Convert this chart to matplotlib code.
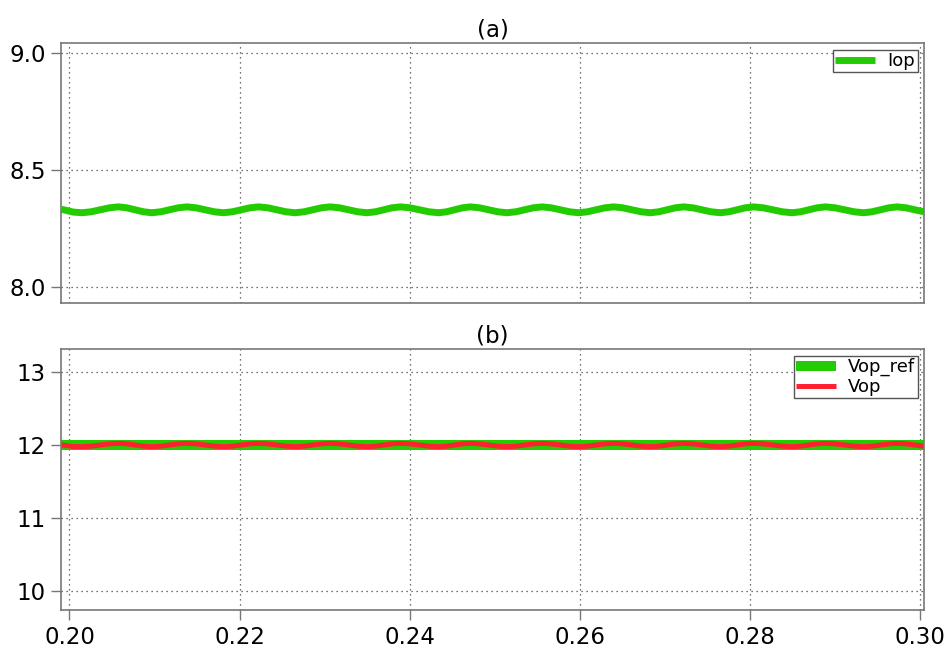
import matplotlib
matplotlib.use("Agg")
import matplotlib.pyplot as plt

# ---- data (common time axis, s) ----
time_s = [0.19906, 0.20040,
          0.20146, 0.20254, 0.20469, 0.20576, 0.20674, 0.20871,
          0.20969, 0.21072, 0.21278, 0.21381, 0.21489, 0.21704,
          0.21812, 0.21915, 0.22121, 0.22224, 0.22332, 0.22547,
          0.22655, 0.22758, 0.22964, 0.23067, 0.23175, 0.23391,
          0.23499, 0.23597, 0.23793, 0.23891, 0.24004, 0.24229,
          0.24341, 0.24435, 0.24622, 0.24715, 0.24823, 0.25038,
          0.25146, 0.25249, 0.25455, 0.25558, 0.25666, 0.25881,
          0.25988, 0.26091, 0.26297, 0.26400, 0.26508, 0.26724,
          0.26832, 0.26930, 0.27126, 0.27224, 0.27332, 0.27547,
          0.27655, 0.27753, 0.27949, 0.28047, 0.28160, 0.28386,
          0.28499, 0.28597, 0.28793, 0.28891, 0.29004, 0.29229,
          0.29341, 0.29439, 0.29636, 0.29734, 0.29838, 0.30050]

iop_v = [8.333, 8.321,
         8.318, 8.322, 8.339, 8.343, 8.339, 8.322,
         8.318, 8.322, 8.339, 8.343, 8.339, 8.322,
         8.318, 8.322, 8.339, 8.343, 8.339, 8.322,
         8.318, 8.322, 8.339, 8.343, 8.339, 8.322,
         8.318, 8.322, 8.339, 8.343, 8.339, 8.322,
         8.318, 8.322, 8.339, 8.343, 8.339, 8.322,
         8.318, 8.322, 8.339, 8.343, 8.339, 8.322,
         8.318, 8.322, 8.339, 8.343, 8.339, 8.322,
         8.318, 8.322, 8.339, 8.343, 8.339, 8.322,
         8.318, 8.322, 8.339, 8.343, 8.339, 8.322,
         8.318, 8.322, 8.339, 8.343, 8.339, 8.322,
         8.318, 8.322, 8.339, 8.343, 8.339, 8.322]

vop_v = [12.000, 11.979,
         11.976, 11.983, 12.015, 12.022, 12.015, 11.983,
         11.976, 11.983, 12.015, 12.022, 12.015, 11.983,
         11.976, 11.983, 12.015, 12.022, 12.015, 11.983,
         11.976, 11.983, 12.015, 12.022, 12.015, 11.983,
         11.976, 11.983, 12.015, 12.022, 12.015, 11.983,
         11.976, 11.983, 12.015, 12.022, 12.015, 11.983,
         11.976, 11.983, 12.015, 12.022, 12.015, 11.983,
         11.976, 11.983, 12.015, 12.022, 12.015, 11.983,
         11.976, 11.983, 12.015, 12.022, 12.015, 11.983,
         11.976, 11.983, 12.015, 12.022, 12.015, 11.983,
         11.976, 11.983, 12.015, 12.022, 12.015, 11.983,
         11.976, 11.983, 12.015, 12.022, 12.015, 11.983]

vref_t = [0.19906, 0.30050]
vref_v = [12.0, 12.0]

x_ticks = [0.20, 0.22, 0.24, 0.26, 0.28, 0.30]
x_ticklabels = ["0.20", "0.22", "0.24", "0.26", "0.28", "0.30"]
a_yticks = [8.0, 8.5, 9.0]
a_yticklabels = ["8.0", "8.5", "9.0"]
b_yticks = [10, 11, 12, 13]
b_yticklabels = ["10", "11", "12", "13"]

GREEN = "#22cc00"
RED = "#ff2030"

plt.rcParams["font.family"] = ["DejaVu Sans"]
plt.rcParams["lines.solid_capstyle"] = "butt"

fig = plt.figure(figsize=(9.46, 6.48), dpi=100)
ax1 = fig.add_axes([0.065, 0.532, 0.9117, 0.401])
ax2 = fig.add_axes([0.065, 0.0586, 0.9117, 0.4023])

ax1.plot(time_s, iop_v, color=GREEN, lw=5.0, label="Iop", solid_joinstyle="round")
ax2.plot(vref_t, vref_v, color=GREEN, lw=7.2, label="Vop_ref")
ax2.plot(time_s, vop_v, color=RED, lw=3.6, label="Vop", solid_joinstyle="round")

for ax in (ax1, ax2):
    ax.set_xlim(0.19906, 0.3005)
    ax.set_xticks(x_ticks)
    ax.grid(True, linestyle=(0, (1, 3)), color="#444444", lw=0.9)
    for s in ax.spines.values():
        s.set_color("#777777")
        s.set_linewidth(1.2)
    ax.tick_params(direction="out", length=7.5, width=1.0, color="#777777",
                   labelsize=16.5, pad=4)

ax1.set_ylim(7.932, 9.04)
ax1.set_yticks(a_yticks)
ax1.set_yticklabels(a_yticklabels)
ax1.tick_params(axis="x", length=0, labelbottom=False)
ax1.set_title("(a)", fontsize=16.5, pad=5)

ax2.set_ylim(9.745, 13.306)
ax2.set_yticks(b_yticks)
ax2.set_yticklabels(b_yticklabels)
ax2.set_xticklabels(x_ticklabels)
ax2.set_title("(b)", fontsize=16.5, pad=5)

for ax in (ax1, ax2):
    leg = ax.legend(loc="upper right", fontsize=13, fancybox=False, framealpha=1,
                    edgecolor="#555555", handlelength=2.2, handletextpad=0.7,
                    borderpad=0.12, labelspacing=0.1, borderaxespad=0.35)
    leg.get_frame().set_linewidth(1.0)

fig.savefig("out.png", dpi=100)
